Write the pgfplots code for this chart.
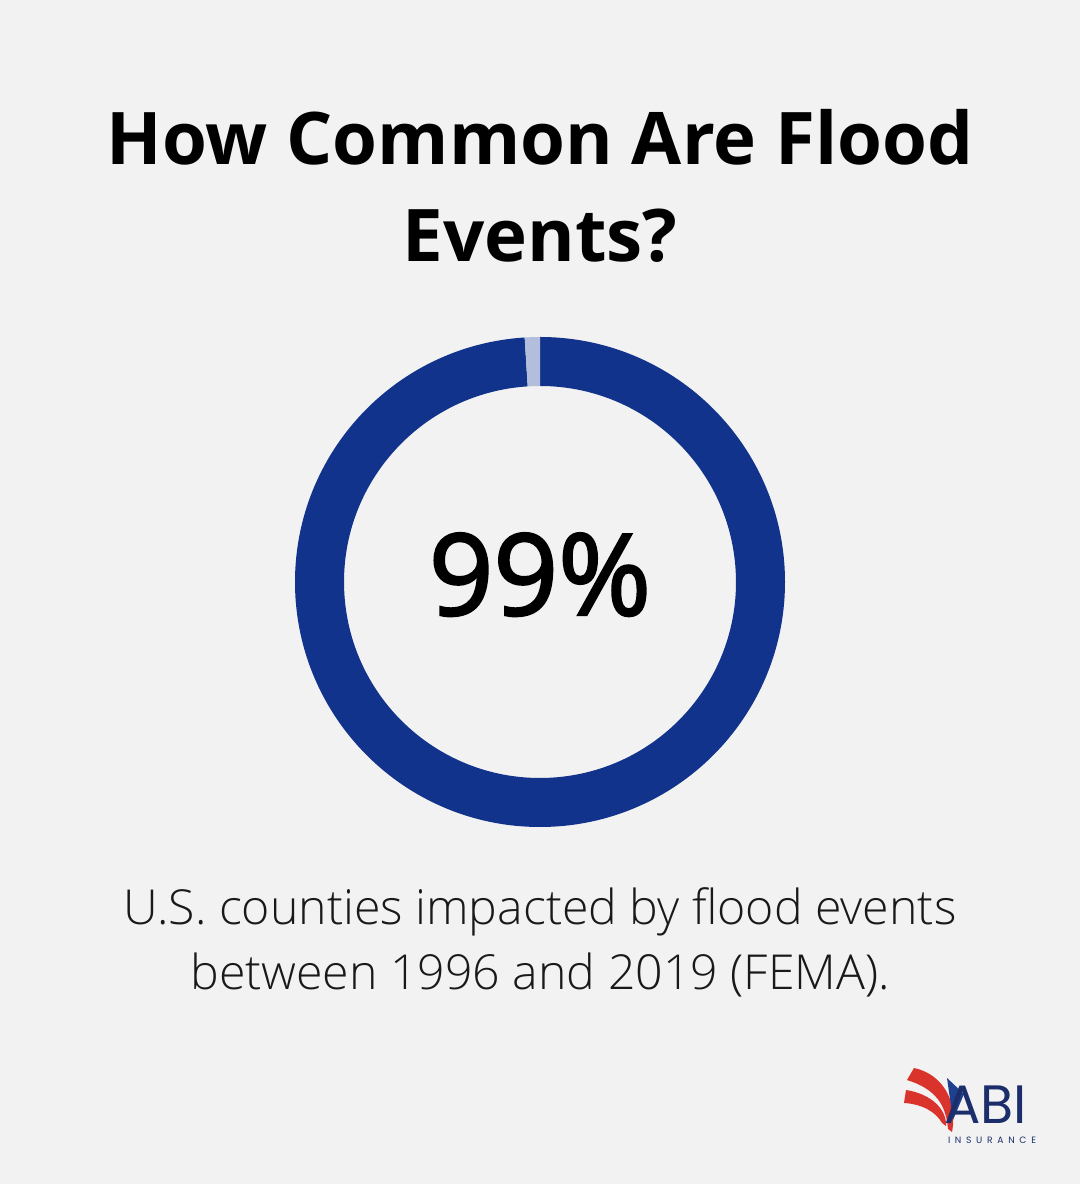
\documentclass[border=0pt]{standalone}
\usepackage{pgfplots}
\pgfplotsset{compat=1.18}
\usepackage{fontspec}
\setmainfont{Open Sans}
\newfontfamily\lightfont{Open Sans Light}
\newfontfamily\boldishfont[FakeBold=2.2]{Open Sans}
\newfontfamily\logofont{Poppins}
\definecolor{bg}{HTML}{F2F2F2}
\definecolor{ringdark}{HTML}{12338B}
\definecolor{ringlight}{HTML}{B3BEDD}
\definecolor{logored}{HTML}{D9332B}
\definecolor{logoblue}{HTML}{1F3F8F}
\definecolor{logonavy}{HTML}{1B2E6B}
\begin{document}
\begin{tikzpicture}
\begin{axis}[
  scale only axis, width=540pt, height=592pt,
  xmin=0, xmax=1080, ymin=0, ymax=1184,
  hide axis, clip=false]
% background
\addplot[draw=none, fill=bg] coordinates {(0,0) (1080,0) (1080,1184) (0,1184)} \closedcycle;
% donut data: share impacted (99) and not impacted (1)
\pgfmathsetmacro{\valA}{99}
\pgfmathsetmacro{\valB}{1}
\pgfmathsetmacro{\angA}{90-3.6*\valA}
\pgfmathsetmacro{\angB}{90+3.6*\valB}
\def\Ro{122.5pt}
\def\Ri{98pt}
\coordinate (c) at (axis cs:540,602);
\fill[ringdark] ([shift={(90:\Ro)}]c) arc[start angle=90, end angle=\angA, radius=\Ro]
  -- ([shift={(\angA:\Ri)}]c) arc[start angle=\angA, end angle=90, radius=\Ri] -- cycle;
\fill[ringlight] ([shift={(\angB:\Ro)}]c) arc[start angle=\angB, end angle=90, radius=\Ro]
  -- ([shift={(90:\Ri)}]c) arc[start angle=90, end angle=\angB, radius=\Ri] -- cycle;
% title
\node[anchor=base, inner sep=0] at (axis cs:540,1019) {\fontsize{36.3}{44}\selectfont\bfseries How Common Are Flood};
\node[anchor=base, inner sep=0] at (axis cs:540,922) {\fontsize{36.3}{44}\selectfont\bfseries Events?};
% center value
\node[anchor=base, inner sep=0] at (axis cs:540,569) {\boldishfont\fontsize{56.5}{60}\selectfont 99\%};
% subtitle
\node[anchor=base, inner sep=0, text=black!90] at (axis cs:540,259) {\lightfont\fontsize{24.1}{30}\selectfont U.S. counties impacted by flood events};
\node[anchor=base, inner sep=0, text=black!90] at (axis cs:540,194) {\lightfont\fontsize{24.1}{30}\selectfont between 1996 and 2019 (FEMA).};
% logo
\fill[logored] (axis cs:914,116) .. controls (axis cs:942,110) and (axis cs:958,84) .. (axis cs:952,52)
  -- (axis cs:948,55) .. controls (axis cs:946,79) and (axis cs:936,95) .. (axis cs:907,104) -- cycle;
\fill[logored] (axis cs:906,94) .. controls (axis cs:932,90) and (axis cs:947,74) .. (axis cs:946,58)
  -- (axis cs:942,61) .. controls (axis cs:936,72) and (axis cs:922,80) .. (axis cs:904,81) -- cycle;
\fill[logoblue] (axis cs:947,106) -- (axis cs:964,90) -- (axis cs:953,64) -- cycle;
\node[anchor=base west, inner sep=0, text=logonavy] at (axis cs:944,61) {\logofont\fontsize{27}{30}\selectfont ABI};
\node[anchor=base, inner sep=0, text=logonavy] at (axis cs:992,40) {\logofont\fontsize{4.6}{5}\selectfont\makebox[44pt][s]{I\hfill N\hfill S\hfill U\hfill R\hfill A\hfill N\hfill C\hfill E}};
\end{axis}
\end{tikzpicture}
\end{document}
